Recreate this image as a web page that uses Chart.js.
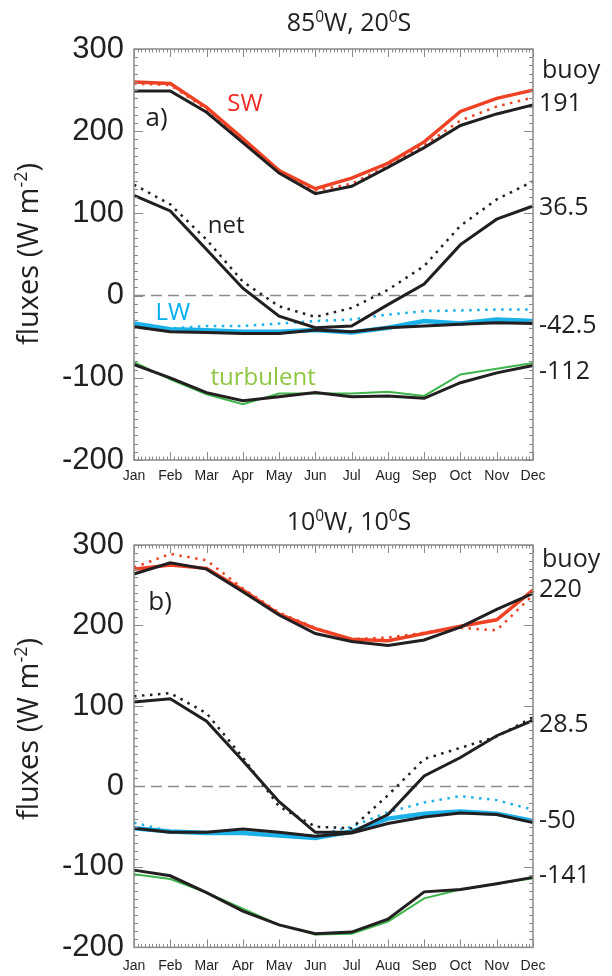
<!DOCTYPE html>
<html>
<head>
<meta charset="utf-8">
<script src="https://cdn.jsdelivr.net/npm/chart.js@4"></script>
<style>
  body { margin: 0; background: #fff; }
  #wrap { position: relative; width: 612px; height: 976px; overflow: hidden; }
  canvas { position: absolute; left: 0; }
</style>
</head>
<body>
<div id="wrap">
  <canvas id="chartA" width="612" height="496" style="top:0"></canvas>
  <canvas id="chartB" width="612" height="480" style="top:496px"></canvas>
</div>
<script>
// months on the x axis
const months = ['Jan', 'Feb', 'Mar', 'Apr', 'May', 'Jun', 'Jul', 'Aug', 'Sep', 'Oct', 'Nov', 'Dec'];
const yTicks = [-200, -100, 0, 100, 200, 300];

// panel a) 85W, 20S
const swA       = [260, 258, 229, 191, 152, 130, 143, 161, 187, 224, 240, 250];
const swDotA    = [258, 256, 227, 189, 150, 128, 136, 158, 183, 213, 230, 241];
const swBuoyA   = [249, 249, 223, 186, 149, 124, 133, 156, 180, 207, 221, 232];
const netDotA   = [135, 111, 68, 17, -13, -26, -15, 7, 36, 85, 117, 139];
const netBuoyA  = [122, 103, 56, 9, -25, -39, -37, -11, 14, 62, 93, 109];
const lwA       = [-34, -41, -42, -44, -44, -42, -45, -39, -31, -34, -29, -31];
const lwDotA    = [-37, -40, -37, -37, -34, -31, -29, -23, -19, -18, -17, -17];
const lwBuoyA   = [-38, -44, -45, -46, -46, -42, -44, -39, -37, -35, -33, -34];
const turbA     = [-81, -102, -120, -132, -119, -119, -119, -117, -122, -96, -89, -82];
const turbBuoyA = [-84, -100, -118, -128, -123, -118, -123, -122, -125, -106, -94, -85];
const buoyMeansA = ['191', '36.5', '-42.5', '-112'];

// panel b) 10W, 10S
const swB       = [270, 275, 271, 244, 214, 196, 183, 181, 190, 199, 207, 244];
const swDotB    = [272, 289, 281, 246, 216, 197, 183, 185, 191, 197, 194, 238];
const swBuoyB   = [264, 278, 270, 242, 213, 190, 180, 175, 182, 198, 220, 240];
const netDotB   = [112, 116, 91, 36, -25, -50, -52, -11, 34, 48, 62, 86];
const netBuoyB  = [105, 109, 81, 32, -19, -57, -57, -35, 13, 36, 63, 82];
const lwB       = [-52, -56, -58, -58, -61, -64, -56, -40, -34, -31, -34, -43];
const lwDotB    = [-45, -56, -57, -57, -59, -61, -50, -32, -20, -12, -17, -29];
const lwBuoyB   = [-52, -57, -57, -53, -57, -62, -58, -46, -38, -33, -35, -45];
const turbB     = [-109, -115, -132, -152, -172, -184, -183, -168, -139, -128, -121, -114];
const turbBuoyB = [-104, -111, -132, -155, -172, -183, -181, -165, -131, -128, -121, -113];
const buoyMeansB = ['220', '28.5', '-50', '-141'];

const INK = '#231f20';
const RED = '#ef4123';
const CYAN = '#1ab0e8';
const GREEN = '#3cb54a';
const AXIS = '#8a8a8a';
const TXT = '"Open Sans", "Noto Sans", sans-serif';
const NUM = '"Liberation Sans", Arial, sans-serif';

function line(data, color, width, dotted) {
    return {
        data: data,
        borderColor: color,
        borderWidth: width,
        borderDash: dotted ? [2.5, 5.5] : [],
        pointRadius: 0,
        tension: 0,
        fill: false
    };
}

// draw text made of runs, some of them superscript
function drawRuns(ctx, runs, x, y, size, align) {
    var small = size * 0.62;
    var w = 0;
    runs.forEach(r => {
        ctx.font = (r.sup ? small : size) + 'px ' + TXT;
        w += ctx.measureText(r.t).width;
    });
    var cx = align === 'center' ? x - w / 2 : x;
    ctx.textAlign = 'left';
    ctx.textBaseline = 'alphabetic';
    runs.forEach(r => {
        ctx.font = (r.sup ? small : size) + 'px ' + TXT;
        ctx.fillText(r.t, cx, r.sup ? y - size * 0.38 : y);
        cx += ctx.measureText(r.t).width;
    });
}

const framePlugin = {
    id: 'frame',
    beforeDatasetsDraw(chart) {
        const ctx = chart.ctx, a = chart.chartArea, y = chart.scales.y;
        ctx.save();
        ctx.strokeStyle = '#8c8c8c';
        ctx.lineWidth = 1.5;
        ctx.setLineDash([11, 6]);
        ctx.beginPath();
        ctx.moveTo(a.left, y.getPixelForValue(0));
        ctx.lineTo(a.right, y.getPixelForValue(0));
        ctx.stroke();
        ctx.restore();
    },
    afterDraw(chart, args, opts) {
        const ctx = chart.ctx, a = chart.chartArea;
        const xs = chart.scales.x, ys = chart.scales.y;
        ctx.save();
        ctx.strokeStyle = AXIS;
        ctx.lineWidth = 1;
        ctx.beginPath();
        // x ticks, top and bottom
        for (var i = 0; i < months.length; i++) {
            var px = Math.round(xs.getPixelForValue(i)) + 0.5;
            ctx.moveTo(px, a.bottom); ctx.lineTo(px, a.bottom - 8);
            ctx.moveTo(px, a.top); ctx.lineTo(px, a.top + 8);
            if (i < months.length - 1) {
                for (var k = 1; k < 10; k++) {
                    var mx = Math.round(xs.getPixelForValue(i + k / 10)) + 0.5;
                    ctx.moveTo(mx, a.bottom); ctx.lineTo(mx, a.bottom - 3.5);
                    ctx.moveTo(mx, a.top); ctx.lineTo(mx, a.top + 3.5);
                }
            }
        }
        // y ticks, left and right
        for (var v = ys.min; v <= ys.max; v += 10) {
            var py = Math.round(ys.getPixelForValue(v)) + 0.5;
            var len = v % 100 === 0 ? 9 : 4;
            ctx.moveTo(a.left, py); ctx.lineTo(a.left + len, py);
            ctx.moveTo(a.right, py); ctx.lineTo(a.right - len, py);
        }
        ctx.stroke();
        ctx.lineWidth = 1.5;
        ctx.strokeRect(a.left, a.top, a.right - a.left, a.bottom - a.top);

        // labels inside the plot
        ctx.textAlign = 'center';
        ctx.textBaseline = 'middle';
        opts.notes.forEach(n => {
            ctx.font = n.size + 'px ' + TXT;
            ctx.fillStyle = n.color;
            ctx.fillText(n.text, xs.getPixelForValue(n.x), ys.getPixelForValue(n.y));
        });

        // buoy means on the right
        ctx.textAlign = 'left';
        ctx.fillStyle = INK;
        ctx.font = '25px ' + TXT;
        ctx.fillText('buoy', a.right + 9, ys.getPixelForValue(opts.buoyY));
        opts.means.forEach((m, i) => {
            ctx.fillText(m, a.right + 6, ys.getPixelForValue(opts.meanY[i]));
        });

        // title
        ctx.fillStyle = INK;
        drawRuns(ctx, opts.title, 349, opts.titleY, 25, 'center');

        // y axis title, rotated
        ctx.save();
        ctx.translate(38, opts.yTitleY);
        ctx.rotate(-Math.PI / 2);
        drawRuns(ctx, [{t: 'fluxes (W m'}, {t: '-2', sup: true}, {t: ')'}], 0, 0, 29, 'center');
        ctx.restore();
        ctx.restore();
    }
};

function makeChart(id, sets, xHeight, xPad, frameOpts) {
    return new Chart(document.getElementById(id), {
        type: 'line',
        data: { labels: months, datasets: sets },
        plugins: [framePlugin],
        options: {
            responsive: false,
            animation: false,
            layout: { padding: { left: 0, right: 79, top: 49, bottom: 0 } },
            plugins: {
                legend: { display: false },
                tooltip: { enabled: false },
                frame: frameOpts
            },
            scales: {
                x: {
                    type: 'category',
                    offset: false,
                    grid: { display: false, drawTicks: false },
                    border: { display: false },
                    ticks: {
                        autoSkip: false, maxRotation: 0, padding: xPad,
                        color: INK, font: { family: NUM, size: 14 }
                    },
                    afterFit: s => { s.height = xHeight; }
                },
                y: {
                    min: -200, max: 300,
                    grid: { display: false, drawTicks: false },
                    border: { display: false },
                    afterBuildTicks: s => { s.ticks = yTicks.map(v => ({ value: v })); },
                    ticks: { padding: 10, color: INK, font: { family: NUM, size: 31 } },
                    afterFit: s => { s.width = 134; }
                }
            }
        }
    });
}

makeChart('chartA', [
    line(swBuoyA, INK, 3),
    line(netBuoyA, INK, 3),
    line(lwBuoyA, INK, 3),
    line(turbBuoyA, INK, 3),
    line(netDotA, INK, 2.5, true),
    line(swA, RED, 3.5),
    line(swDotA, RED, 2.5, true),
    line(lwA, CYAN, 4.5),
    line(lwDotA, CYAN, 2.5, true),
    line(turbA, GREEN, 2)
], 36, 8, {
    title: [{t: '85'}, {t: '0', sup: true}, {t: 'W, 20'}, {t: '0', sup: true}, {t: 'S'}],
    titleY: 31,
    yTitleY: 254,
    buoyY: 273,
    means: buoyMeansA,
    meanY: [233, 107, -37, -93],
    notes: [
        { text: 'SW', x: 3.06, y: 233, color: '#ee2a24', size: 24 },
        { text: 'a)', x: 0.62, y: 215, color: INK, size: 26 },
        { text: 'net', x: 2.54, y: 84, color: INK, size: 24 },
        { text: 'LW', x: 1.07, y: -21, color: '#00aeef', size: 24 },
        { text: 'turbulent', x: 3.56, y: -100, color: '#8dc63f', size: 24 }
    ]
});

makeChart('chartB', [
    line(swBuoyB, INK, 3),
    line(netBuoyB, INK, 3),
    line(lwBuoyB, INK, 3),
    line(turbBuoyB, INK, 3),
    line(netDotB, INK, 2.5, true),
    line(swB, RED, 3.5),
    line(swDotB, RED, 2.5, true),
    line(lwB, CYAN, 4.5),
    line(lwDotB, CYAN, 2.5, true),
    line(turbB, GREEN, 2)
], 23, 10, {
    title: [{t: '10'}, {t: '0', sup: true}, {t: 'W, 10'}, {t: '0', sup: true}, {t: 'S'}],
    titleY: 34,
    yTitleY: 233,
    buoyY: 282,
    means: buoyMeansB,
    meanY: [244, 77, -43, -111],
    notes: [
        { text: 'b)', x: 0.72, y: 228, color: INK, size: 26 }
    ]
});
</script>
</body>
</html>
